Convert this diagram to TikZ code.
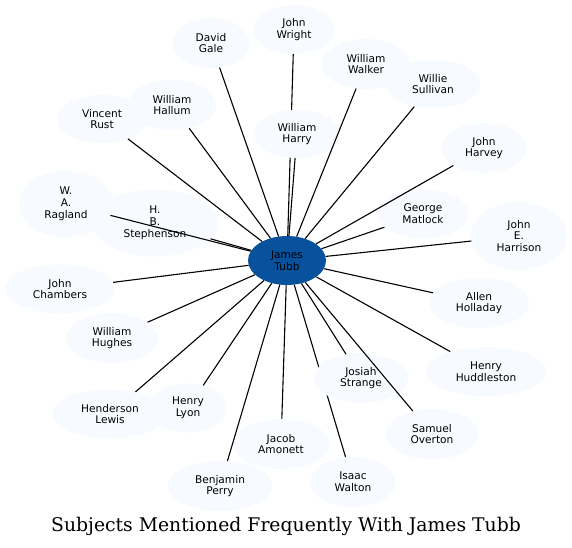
\documentclass[tikz,border=0pt]{standalone}
\usepackage{fontspec}
\setmainfont{DejaVu Serif}
\newfontfamily\nodefont{DejaVu Sans}
\usetikzlibrary{shapes.geometric}
\definecolor{lightnode}{HTML}{F7FBFF}
\definecolor{darknode}{HTML}{08519C}
\pgfdeclarelayer{bottom}
\pgfdeclarelayer{back}
\pgfdeclarelayer{front}
\pgfsetlayers{bottom,back,main,front}
\begin{document}
\begin{tikzpicture}[x=1pt,y=-1pt,
  person/.style={ellipse, fill=lightnode, inner sep=0pt, align=center,
    font=\nodefont\fontsize{10.6}{11.8}\selectfont},
  hub/.style={person, fill=darknode},
  link/.style={draw=black, line width=1.1pt}]
\useasboundingbox (0,0) rectangle (572,547);
\begin{pgfonlayer}{bottom}
  \fill[white] (0,0) rectangle (572,547);
\end{pgfonlayer}

\node[hub, minimum width=78pt, minimum height=49pt] (tubb) at (287,260.5) {James\\Tubb};
\node[person, minimum width=76pt, minimum height=50pt] (gale) at (211,43) {David\\Gale};
\node[person, minimum width=81pt, minimum height=49pt] (wright) at (294,29.5) {John\\Wright};
\node[person, minimum width=88pt, minimum height=50pt] (walker) at (366,64) {William\\Walker};
\node[person, minimum width=94pt, minimum height=49pt] (sullivan) at (433,84) {Willie\\Sullivan};
\node[person, minimum width=90pt, minimum height=48pt] (rust) at (102,119) {Vincent\\Rust};
\node[person, minimum width=88pt, minimum height=50pt] (hallum) at (172,105) {William\\Hallum};
\node[person, minimum width=86pt, minimum height=48pt] (harry) at (297,134) {William\\Harry};
\node[person, minimum width=85pt, minimum height=50pt] (harvey) at (484,148) {John\\Harvey};
\node[person, minimum width=94pt, minimum height=67pt] (ragland) at (66,204) {W.\\A.\\Ragland};
\node[person, minimum width=125pt, minimum height=67pt] (stephenson) at (155,223) {H.\\B.\\Stephenson};
\node[person, minimum width=91pt, minimum height=49pt] (matlock) at (423,214) {George\\Matlock};
\node[person, minimum width=96pt, minimum height=68pt] (harrison) at (519,236) {John\\E.\\Harrison};
\node[person, minimum width=110pt, minimum height=49pt] (chambers) at (60,289) {John\\Chambers};
\node[person, minimum width=91pt, minimum height=50pt] (hughes) at (112,338) {William\\Hughes};
\node[person, minimum width=115pt, minimum height=49pt] (lewis) at (110,414) {Henderson\\Lewis};
\node[person, minimum width=76pt, minimum height=49pt] (lyon) at (188,408) {Henry\\Lyon};
\node[person, minimum width=96pt, minimum height=50pt] (amonett) at (281,444) {Jacob\\Amonett};
\node[person, minimum width=104pt, minimum height=50pt] (perry) at (220,486) {Benjamin\\Perry};
\node[person, minimum width=94pt, minimum height=50pt] (strange) at (361,378) {Josiah\\Strange};
\node[person, minimum width=93pt, minimum height=50pt] (overton) at (432,434) {Samuel\\Overton};
\node[person, minimum width=85pt, minimum height=50pt] (walton) at (353,482) {Isaac\\Walton};
\node[person, minimum width=100pt, minimum height=50pt] (holladay) at (479,303) {Allen\\Holladay};
\node[person, minimum width=121pt, minimum height=49pt] (huddleston) at (486,371.5) {Henry\\Huddleston};

\node[anchor=base, font=\fontsize{18.8}{21}\selectfont] (title) at (286,531) {Subjects Mentioned Frequently With James Tubb};

\begin{pgfonlayer}{back}
  \draw[link] (tubb) -- (wright);
  \draw[link] (tubb) -- (walton);
\end{pgfonlayer}
\begin{pgfonlayer}{front}
  \foreach \n in {gale,walker,sullivan,rust,hallum,harry,harvey,ragland,stephenson,
    matlock,harrison,chambers,hughes,lewis,lyon,amonett,perry,strange,overton,
    holladay,huddleston}
    \draw[link] (tubb) -- (\n);
\end{pgfonlayer}
\end{tikzpicture}
\end{document}
